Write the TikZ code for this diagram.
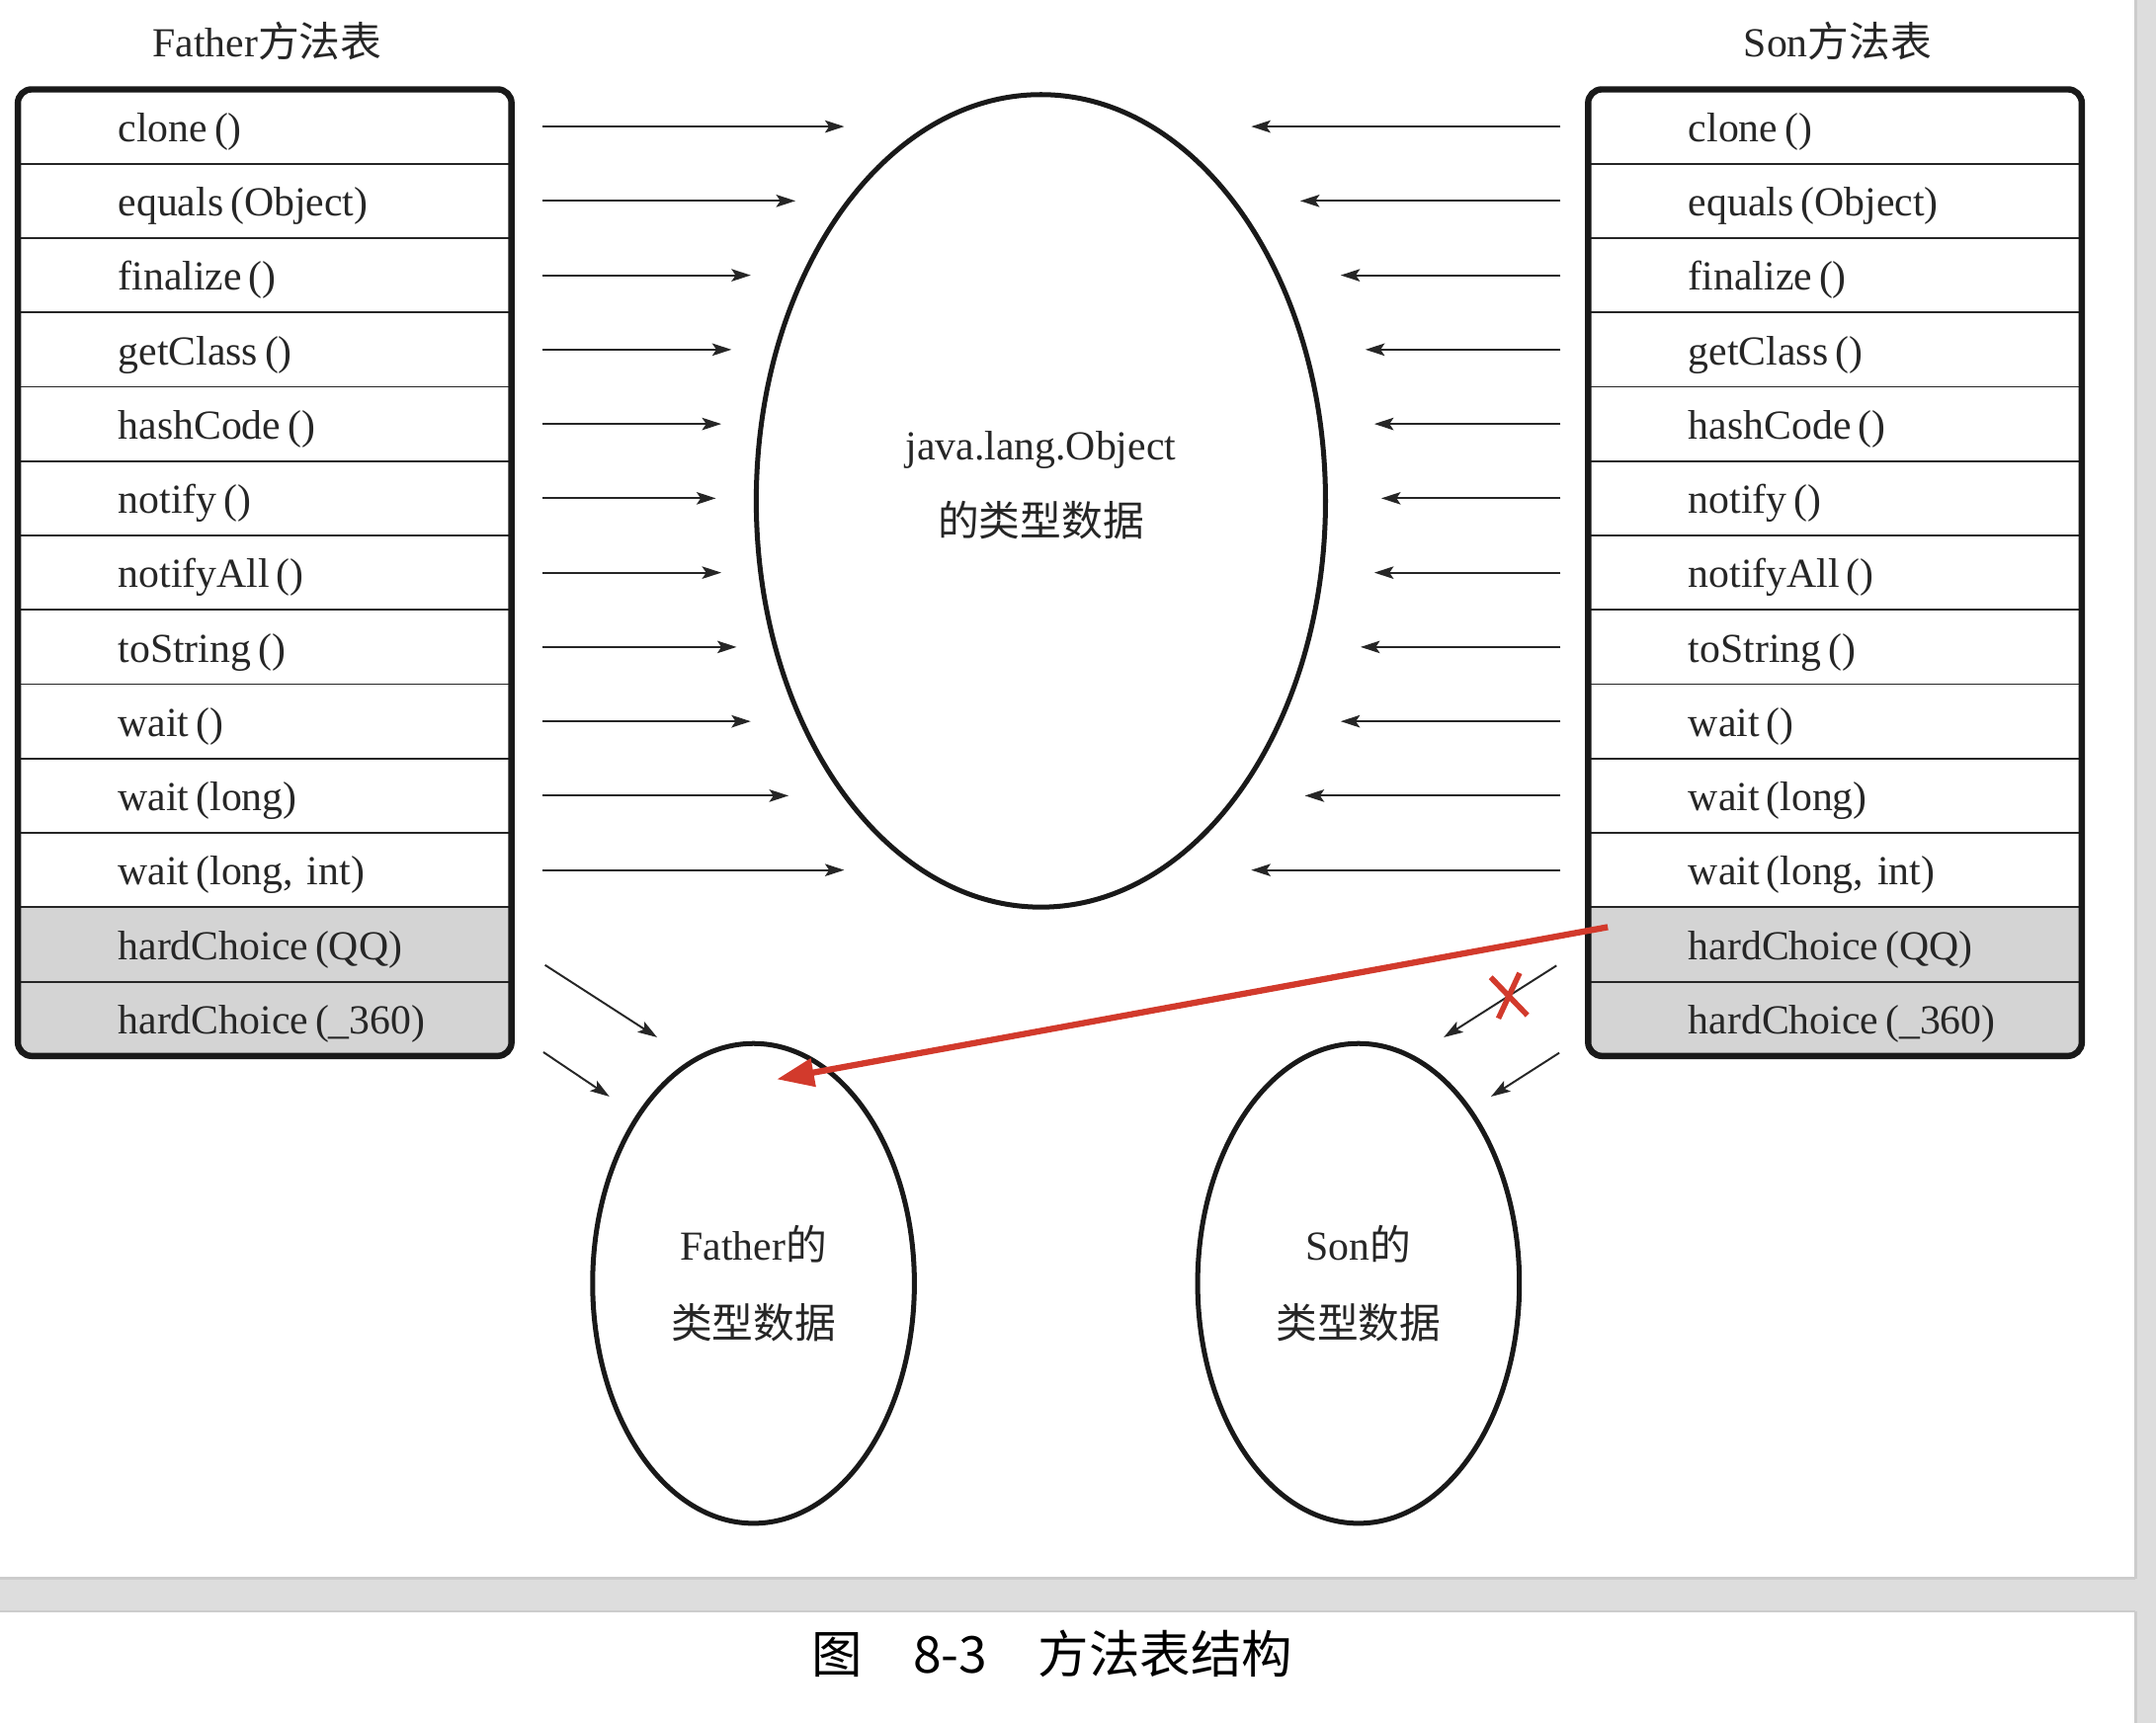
\documentclass[tikz,border=0pt]{standalone}
\usepackage{fontspec}
\setmainfont{Liberation Serif}
\newfontfamily\cjk{Noto Sans CJK SC}
\usetikzlibrary{chains,positioning,shapes.geometric,arrows.meta}
\definecolor{rowgray}{RGB}{212,212,212}
\definecolor{markred}{RGB}{210,58,44}
\definecolor{bandgray}{RGB}{221,221,221}
\newcommand{\zh}[1]{{\cjk #1}}
\newcommand{\tblfont}{\fontsize{15pt}{18pt}\selectfont}
\def\methlist{clone\,()/white, equals\,(Object)/white, finalize\,()/white, getClass\,()/white, hashCode\,()/white, notify\,()/white, notifyAll\,()/white, toString\,()/white, wait\,()/white, wait\,(long)/white, {wait\,(long, int)}/white, hardChoice\,(QQ)/rowgray, hardChoice\,(\_360)/rowgray}

\tikzset{
 meth/.style={draw=black!85, line width=0.7pt, text=black!85, font=\tblfont, text width=179.5pt, align=left, inner xsep=0pt, inner ysep=0pt, text height=14pt, text depth=3pt, minimum height=27.04pt, outer sep=0pt, execute at begin node={\hspace*{36.5pt}}},
 tblbox/.style={draw=black!90, line width=2.3pt, rounded corners=5pt},
 tdata/.style={ellipse, draw=black!90, line width=1.8pt, font=\tblfont, text=black!85, align=center},
 callarr/.style={-{Stealth[length=7pt,width=4.5pt,inset=1.5pt]}, line width=0.7pt, draw=black!85},
 redarr/.style={-{Triangle[length=13.5pt,width=10pt]}, line width=2.25pt, draw=markred}
}

\begin{document}
\begin{tikzpicture}[x=0.5pt, y=-0.5pt]
 \useasboundingbox (0,0) rectangle (1568,1253);
 \fill[white] (0,0) rectangle (1568,1253);
 \fill[bandgray] (1553,0) rectangle (1568,1253);
 \fill[bandgray] (0,1148) rectangle (1553,1172);
 \draw[black!20, line width=1pt] (0,1148) -- (1553,1148) (0,1172) -- (1553,1172) (1553,0) -- (1553,1148) (1553,1172) -- (1553,1253);

 \node[font=\tblfont, text=black!85] (fatitle) at (194.4,30) {Father\zh{方法表}};
 \node[font=\tblfont, text=black!85] (sotitle) at (1336.6,30) {Son\zh{方法表}};

 % method tables
 \begin{scope}
  \clip[rounded corners=5pt] (13,65) rectangle (372,768);
  \begin{scope}[shift={(192.5,92.04)}, start chain=fa going below, node distance=0pt]
   \foreach \m/\fc in \methlist
    \node[meth, fill=\fc, on chain] {\m};
  \end{scope}
 \end{scope}
 \draw[tblbox] (fa-1.north west) rectangle (fa-13.south east);

 \begin{scope}
  \clip[rounded corners=5pt] (1155,65) rectangle (1514,768);
  \begin{scope}[shift={(1334.5,92.04)}, start chain=so going below, node distance=0pt]
   \foreach \m/\fc in \methlist
    \node[meth, fill=\fc, on chain] {\m};
  \end{scope}
 \end{scope}
 \draw[tblbox] (so-1.north west) rectangle (so-13.south east);

 % type data
 \node[tdata, minimum width=207pt, minimum height=295.5pt, label={[font=\tblfont, text=black!85, align=center, yshift=5.65pt]center:java.lang.Object\\[10pt]\zh{的类型数据}}] (objdata) at (757,364.3) {};
 \node[tdata, minimum width=117pt, minimum height=174.5pt] (fadata) at (548,933.5) {Father\zh{的}\\[10.5pt]\zh{类型数据}};
 \node[tdata, minimum width=117pt, minimum height=174.5pt] (sodata) at (988,933.5) {Son\zh{的}\\[10.5pt]\zh{类型数据}};

 \foreach \i/\x in {1/614,2/578.5,3/546,4/532,5/524.6,6/520.6,7/524.6,8/535.7,9/546,10/573.5,11/614}{
  \path (fa-\i.east) ++(\x-372,0) coordinate (fo\i);
  \draw[callarr, shorten <=11.25pt] (fa-\i.east) -- (fo\i);
 }
 \foreach \i/\x in {1/910,2/945.6,3/975,4/993,5/999.5,6/1004.6,7/999.5,8/989.5,9/975,10/949,11/910}{
  \path (so-\i.west) ++(\x-1155,0) coordinate (sx\i);
  \draw[callarr, shorten <=10pt] (so-\i.west) -- (sx\i);
 }

 \coordinate (fq1) at ([shift={(24.4,15)}]fa-12.east);
 \coordinate (fq2) at ([shift={(23.2,24.3)}]fa-13.east);
 \draw[callarr] (fq1) -- ([shift={(-70.1,-179)}]fadata.center);
 \draw[callarr] (fq2) -- ([shift={(-104.8,-135.9)}]fadata.center);

 \coordinate (sq1) at ([shift={(-23,15.4)}]so-12.west);
 \coordinate (sq2) at ([shift={(-21,24.8)}]so-13.west);
 \draw[callarr] (sq1) -- coordinate[pos=0.42] (xmark) ([shift={(62,-179)}]sodata.center);
 \draw[callarr] (sq2) -- ([shift={(96.4,-135.9)}]sodata.center);

 \draw[markred, line width=2pt] ([shift={(-13.4,-13.4)}]xmark) -- ([shift={(13.2,14.2)}]xmark)
  ([shift={(7.6,-16.5)}]xmark) -- ([shift={(-7.8,16.5)}]xmark);
 \draw[redarr] ([shift={(14.3,-12.6)}]so-12.west) -- ([shift={(17,-148.5)}]fadata.center);

 \node[font=\cjk\fontsize{18.5pt}{22pt}\selectfont] (caption) at (765,1203) {图\quad 8-3\quad 方法表结构};
\end{tikzpicture}
\end{document}
